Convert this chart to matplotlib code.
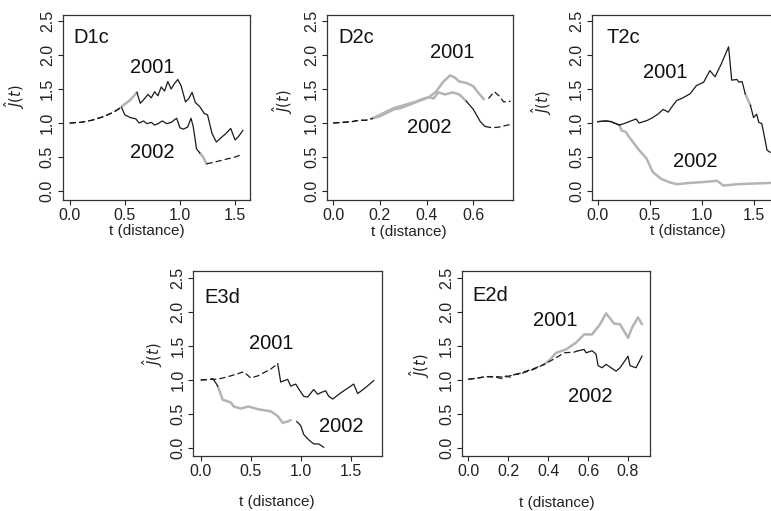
import matplotlib
matplotlib.use("Agg")
import matplotlib.pyplot as plt

plt.rcParams['font.family'] = ['Liberation Sans', 'DejaVu Sans']

# style codes per segment: d = black dashed, s = black solid, g = grey, n = gap
# ---- D1c
d1c_t01 = [0, 0.1, 0.2, 0.3, 0.4, 0.47, 0.55, 0.61, 0.64, 0.68, 0.71, 0.74, 0.77, 0.80, 0.83, 0.86, 0.89, 0.92,
           0.95, 0.98, 1.01, 1.05, 1.08, 1.11, 1.14, 1.18, 1.22, 1.25, 1.29, 1.33, 1.37, 1.42, 1.46, 1.50, 1.53, 1.57]
d1c_j01 = [1.0, 1.01, 1.04, 1.09, 1.16, 1.24, 1.34, 1.45, 1.29, 1.36, 1.42, 1.37, 1.46, 1.40, 1.53, 1.47, 1.61, 1.50,
           1.58, 1.64, 1.55, 1.31, 1.36, 1.45, 1.30, 1.24, 1.14, 1.12, 0.85, 0.72, 0.78, 0.85, 0.92, 0.75, 0.80, 0.89]
d1c_s01 = 'ddddd' + 'gg' + 's'
d1c_t02 = [0, 0.1, 0.2, 0.3, 0.4, 0.47, 0.50, 0.55, 0.60, 0.63, 0.67, 0.70, 0.74, 0.77, 0.80, 0.84, 0.88, 0.92,
           0.97, 1.00, 1.03, 1.07, 1.10, 1.12, 1.15, 1.18, 1.21, 1.24, 1.30, 1.40, 1.50, 1.55]
d1c_j02 = [1.0, 1.01, 1.04, 1.09, 1.16, 1.23, 1.12, 1.08, 1.06, 1.00, 1.03, 0.99, 1.01, 0.97, 0.99, 1.03, 0.99, 1.01,
           1.07, 0.93, 0.91, 0.94, 1.07, 0.95, 0.62, 0.56, 0.50, 0.40, 0.42, 0.46, 0.50, 0.53]
d1c_s02 = 'ddddd' + 's' * 20 + 'gg' + 'd'

# ---- D2c
d2c_t01 = [0, 0.04, 0.08, 0.11, 0.14, 0.17, 0.20, 0.23, 0.26, 0.29, 0.32, 0.35, 0.38, 0.41, 0.44, 0.47, 0.50, 0.52,
           0.54, 0.57, 0.60, 0.62, 0.645, 0.665, 0.69, 0.71, 0.73, 0.76]
d2c_j01 = [1.0, 1.01, 1.02, 1.04, 1.04, 1.07, 1.12, 1.17, 1.22, 1.25, 1.28, 1.31, 1.35, 1.38, 1.46, 1.60, 1.70, 1.67,
           1.61, 1.59, 1.54, 1.45, 1.35, 1.36, 1.46, 1.40, 1.31, 1.32]
d2c_s01 = 'ddddd' + 'g' * 17 + 'n' + 'd'
d2c_t02 = [0, 0.04, 0.08, 0.11, 0.14, 0.17, 0.20, 0.23, 0.26, 0.29, 0.32, 0.35, 0.38, 0.41, 0.43, 0.45, 0.48, 0.51,
           0.54, 0.57, 0.60, 0.63, 0.65, 0.68, 0.71, 0.76]
d2c_j02 = [1.0, 1.01, 1.02, 1.04, 1.04, 1.07, 1.10, 1.15, 1.20, 1.22, 1.26, 1.30, 1.34, 1.38, 1.36, 1.45, 1.42, 1.45,
           1.42, 1.32, 1.20, 1.02, 0.95, 0.93, 0.94, 0.98]
d2c_s02 = 'ddddd' + 'g' * 14 + 'sss' + 'd'

# ---- T2c
t2c_t01 = [0, 0.08, 0.13, 0.16, 0.21, 0.27, 0.32, 0.37, 0.40, 0.44, 0.48, 0.53, 0.58, 0.63, 0.68, 0.72, 0.76, 0.82,
           0.89, 0.95, 1.02, 1.08, 1.13, 1.19, 1.26, 1.29, 1.34, 1.36, 1.39, 1.42, 1.47, 1.50, 1.53, 1.55, 1.58, 1.63, 1.66]
t2c_j01 = [1.02, 1.03, 1.02, 1.00, 0.97, 1.00, 1.03, 1.06, 1.00, 1.02, 1.04, 1.08, 1.13, 1.20, 1.16, 1.25, 1.33, 1.37,
           1.43, 1.55, 1.60, 1.77, 1.68, 1.87, 2.12, 1.63, 1.64, 1.60, 1.61, 1.43, 1.26, 1.08, 1.13, 1.01, 0.99, 0.60, 0.57]
t2c_s01 = 's' * 29 + 'g' + 's'
t2c_t02 = [0, 0.08, 0.13, 0.16, 0.21, 0.23, 0.27, 0.30, 0.34, 0.40, 0.47, 0.53, 0.61, 0.69, 0.76, 0.89, 1.00, 1.15,
           1.21, 1.34, 1.50, 1.68]
t2c_j02 = [1.02, 1.03, 1.02, 1.00, 0.97, 0.89, 0.87, 0.80, 0.72, 0.60, 0.48, 0.28, 0.18, 0.13, 0.10, 0.12, 0.13, 0.15,
           0.08, 0.10, 0.11, 0.12]
t2c_s02 = 'ssss' + 'g'

# ---- E3d
e3d_t01 = [0, 0.10, 0.17, 0.30, 0.43, 0.50, 0.57, 0.70, 0.77, 0.80, 0.87, 0.90, 0.95, 0.98, 1.03, 1.07, 1.13, 1.17,
           1.21, 1.25, 1.28, 1.32, 1.40, 1.53, 1.57, 1.65, 1.73]
e3d_j01 = [1.0, 1.01, 1.01, 1.06, 1.12, 1.03, 1.06, 1.16, 1.24, 0.97, 1.01, 0.91, 0.94, 0.87, 0.76, 0.75, 0.86, 0.79,
           0.82, 0.84, 0.76, 0.72, 0.81, 0.94, 0.80, 0.89, 0.99]
e3d_s01 = 'dddddddd' + 's'
e3d_t02 = [0, 0.10, 0.12, 0.15, 0.17, 0.22, 0.30, 0.33, 0.40, 0.48, 0.57, 0.70, 0.77, 0.82, 0.87, 0.90, 0.96, 1.00,
           1.03, 1.08, 1.13, 1.18, 1.23]
e3d_j02 = [1.0, 1.01, 1.02, 0.96, 0.91, 0.71, 0.67, 0.61, 0.58, 0.61, 0.57, 0.54, 0.47, 0.37, 0.39, 0.41, 0.39, 0.33,
           0.20, 0.12, 0.06, 0.06, 0.01]
e3d_s02 = 'dd' + 'ss' + 'g' * 11 + 'n' + 's'

# ---- E2d
e2d_t01 = [0, 0.05, 0.09, 0.14, 0.18, 0.22, 0.26, 0.29, 0.33, 0.38, 0.41, 0.44, 0.49, 0.54, 0.58, 0.62, 0.66, 0.69,
           0.73, 0.76, 0.80, 0.82, 0.85, 0.87]
e2d_j01 = [1.01, 1.03, 1.05, 1.05, 1.04, 1.07, 1.10, 1.13, 1.17, 1.23, 1.30, 1.40, 1.45, 1.55, 1.67, 1.67, 1.82, 1.98,
           1.83, 1.82, 1.62, 1.77, 1.92, 1.82]
e2d_s01 = 'd' * 9 + 'g'
e2d_t02 = [0, 0.05, 0.09, 0.14, 0.17, 0.19, 0.21, 0.23, 0.26, 0.29, 0.33, 0.38, 0.43, 0.48, 0.53, 0.55, 0.58, 0.59,
           0.62, 0.64, 0.65, 0.67, 0.69, 0.71, 0.74, 0.76, 0.80, 0.81, 0.84, 0.87]
e2d_j02 = [1.01, 1.03, 1.05, 1.04, 1.02, 1.06, 1.04, 1.08, 1.09, 1.12, 1.16, 1.23, 1.31, 1.40, 1.41, 1.43, 1.45, 1.40,
           1.43, 1.38, 1.21, 1.18, 1.23, 1.19, 1.13, 1.18, 1.35, 1.21, 1.18, 1.35]
e2d_s02 = 'd' * 15 + 's'

y_ticks = [0.0, 0.5, 1.0, 1.5, 2.0, 2.5]


def draw_curve(ax, t, j, style):
    n = len(t)
    style = style.ljust(n - 1, style[-1])
    runs = []
    a = 0
    for i in range(1, n - 1):
        if style[i] != style[a]:
            runs.append((a, i))
            a = i
    runs.append((a, n - 1))
    for a, b in runs:
        code = style[a]
        tt, jj = t[a:b + 1], j[a:b + 1]
        if code == 'g':
            ax.plot(tt, jj, color='#b4b4b4', lw=1.8, zorder=2, solid_capstyle='round')
        elif code == 's':
            ax.plot(tt, jj, color='#1a1a1a', lw=0.9, zorder=3)
        elif code == 'd':
            ax.plot(tt, jj, color='#1a1a1a', lw=0.9, zorder=3, dashes=(5, 2.5))


W, H = 771, 511
fig = plt.figure(figsize=(W / 100, H / 100), dpi=100)

# name, box in pixels (left, right, top, bottom), xlim, ylim, xticks, curves, label positions
panels = [
    ('D1c', (62.5, 250, 15, 200), (-0.065, 1.635), (-0.132, 2.588), [0, 0.5, 1.0, 1.5],
     [(d1c_t01, d1c_j01, d1c_s01), (d1c_t02, d1c_j02, d1c_s02)],
     (0.03, 2.26), (0.75, 1.82), (0.75, 0.56), (-0.253, 0.557), (0.449, -0.165)),
    ('D2c', (326.7, 513, 15, 200), (-0.028, 0.770), (-0.132, 2.588), [0, 0.2, 0.4, 0.6],
     [(d2c_t01, d2c_j01, d2c_s01), (d2c_t02, d2c_j02, d2c_s02)],
     (0.02, 2.25), (0.51, 2.03), (0.41, 0.94), (-0.235, 0.53), (0.442, -0.172)),
    ('T2c', (591.7, 779, 15, 200), (-0.057, 1.745), (-0.132, 2.588), [0, 0.5, 1.0, 1.5],
     [(t2c_t01, t2c_j01, t2c_s01), (t2c_t02, t2c_j02, t2c_s02)],
     (0.09, 2.25), (0.65, 1.74), (0.94, 0.43), (-0.265, 0.524), (0.514, -0.165)),
    ('E3d', (193, 382, 271, 456), (-0.077, 1.813), (-0.118, 2.603), [0, 0.5, 1.0, 1.5],
     [(e3d_t01, e3d_j01, e3d_s01), (e3d_t02, e3d_j02, e3d_s02)],
     (0.04, 2.21), (0.71, 1.54), (1.41, 0.31), (-0.212, 0.546), (0.444, -0.249)),
    ('E2d', (461.7, 650, 271, 456), (-0.033, 0.91), (-0.118, 2.603), [0, 0.2, 0.4, 0.6, 0.8],
     [(e2d_t01, e2d_j01, e2d_s01), (e2d_t02, e2d_j02, e2d_s02)],
     (0.02, 2.25), (0.435, 1.88), (0.61, 0.75), (-0.221, 0.49), (0.506, -0.254)),
]

for (name, box, xlim, ylim, xticks, curves, name_pos, pos01, pos02, ylab_pos, xlab_pos) in panels:
    left, right, top, bottom = box
    ax = fig.add_axes([left / W, 1 - bottom / H, (right - left) / W, (bottom - top) / H])
    for t, j, s in curves:
        draw_curve(ax, t, j, s)
    ax.set_xlim(*xlim)
    ax.set_ylim(*ylim)
    ax.set_xticks(xticks)
    ax.set_xticklabels(['%.1f' % v for v in xticks])
    ax.set_yticks(y_ticks)
    ax.set_yticklabels(['%.1f' % v for v in y_ticks])
    ax.tick_params(axis='both', direction='out', length=3.5, width=0.8, pad=2.5,
                   labelsize=11.5, colors='#222222')
    ax.tick_params(axis='y', labelrotation=90, pad=2)
    for lbl in ax.get_yticklabels():
        lbl.set_va('center')
    for sp in ax.spines.values():
        sp.set_linewidth(0.9)
        sp.set_color('#333333')

    # panel name and year labels
    ax.text(name_pos[0], name_pos[1], name, fontsize=14.5, ha='left', va='center', color='#111111')
    ax.text(pos01[0], pos01[1], '2001', fontsize=14.5, ha='center', va='center', color='#111111')
    ax.text(pos02[0], pos02[1], '2002', fontsize=14.5, ha='center', va='center', color='#111111')

    # axis titles
    ax.text(ylab_pos[0], ylab_pos[1], r'$\hat{J}(t)$', fontsize=10.5, rotation=90,
            ha='center', va='center', transform=ax.transAxes, color='#222222')
    ax.text(xlab_pos[0], xlab_pos[1], 't (distance)', fontsize=11,
            ha='center', va='center', transform=ax.transAxes, color='#222222')

fig.savefig('out.png', dpi=100)
